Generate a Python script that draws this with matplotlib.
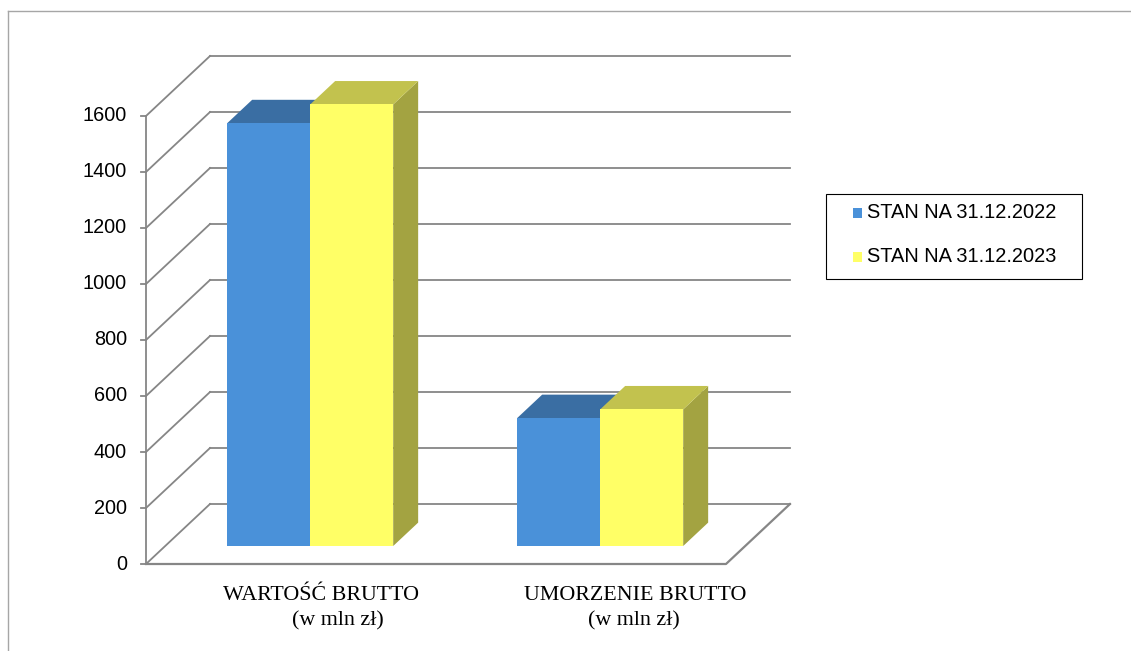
import matplotlib
matplotlib.use('Agg')
import matplotlib.pyplot as plt
from matplotlib.patches import Polygon, Rectangle
from matplotlib.lines import Line2D

# data
categories = ['WARTOŚĆ BRUTTO', 'UMORZENIE BRUTTO']
unit_label = '(w mln zł)'
series_names = ['STAN NA 31.12.2022', 'STAN NA 31.12.2023']
stan_2022 = [1510, 457]
stan_2023 = [1577, 488]
y_ticks = [0, 200, 400, 600, 800, 1000, 1200, 1400, 1600]

front_colors = ['#4A91D9', '#FFFF66']
top_colors = ['#3A6EA3', '#C2C24E']
side_colors = ['#2F5A86', '#A3A341']
grid_col = '#868686'

W, H = 1131, 651
PX_CAT = 290.0      # pixels per category unit
PX_VAL = 0.28       # pixels per value unit
X0_PX = 146         # left edge of front plane
Y0_PX = 564         # zero line of front plane (from top)

# oblique depth vector in data units
DX = 64 / PX_CAT
DY = 60 / PX_VAL

fig = plt.figure(figsize=(W / 100, H / 100), dpi=100)
ax = fig.add_axes([0, 0, 1, 1])
ax.set_xlim(-X0_PX / PX_CAT, (W - X0_PX) / PX_CAT)
ax.set_ylim(-(H - Y0_PX) / PX_VAL, Y0_PX / PX_VAL)
ax.axis('off')

n_cat = len(categories)
lw = 1.3

def proj(x, v, d):
    return (x + d * DX, v + d * DY)

# walls
for t in y_ticks:
    ax.plot([DX, n_cat + DX], [t + DY, t + DY], color=grid_col, lw=lw, zorder=1)
    ax.plot([0, DX], [t, t + DY], color=grid_col, lw=lw, zorder=1)
    ax.plot([-5 / PX_CAT, 0], [t, t], color=grid_col, lw=lw, zorder=1)
    ax.text(-19 / PX_CAT, t, str(t), ha='right', va='center',
            fontsize=14.3, family='Liberation Sans', color='black')
ax.plot([0, 0], [0, y_ticks[-1]], color=grid_col, lw=lw, zorder=1)
ax.plot([0, n_cat, n_cat + DX], [0, 0, DY], color=grid_col, lw=lw + 0.3, zorder=1)

# bars
bar_w = 0.2862
d0, d1 = 0.3, 0.69
series = [stan_2022, stan_2023]
z = 2
for i in range(n_cat):
    for s, vals in enumerate(series):
        v = vals[i]
        x0 = i + 0.5 - bar_w + s * bar_w
        x1 = x0 + bar_w
        side = [proj(x1, 0, d0), proj(x1, 0, d1), proj(x1, v, d1), proj(x1, v, d0)]
        top = [proj(x0, v, d0), proj(x1, v, d0), proj(x1, v, d1), proj(x0, v, d1)]
        front = [proj(x0, 0, d0), proj(x1, 0, d0), proj(x1, v, d0), proj(x0, v, d0)]
        ax.add_patch(Polygon(side, closed=True, fc=side_colors[s], ec='none', zorder=z))
        ax.add_patch(Polygon(top, closed=True, fc=top_colors[s], ec='none', zorder=z))
        ax.add_patch(Polygon(front, closed=True, fc=front_colors[s], ec='none', zorder=z + 0.5))
        z += 1

# category labels
line1_x = [0.603, 1.686]
line2_x = [0.662, 1.683]
for i, name in enumerate(categories):
    ax.text(line1_x[i], -(596 - Y0_PX) / PX_VAL, name, ha='center', va='center',
            fontsize=15.8, family='Liberation Serif', color='black')
    ax.text(line2_x[i], -(621 - Y0_PX) / PX_VAL, unit_label, ha='center', va='center',
            fontsize=15.8, family='Liberation Serif', color='black')

# legend (drawn by hand to match the box)
tf = fig.transFigure
fig.add_artist(Rectangle((826 / W, 1 - 279 / H), 256 / W, 85 / H, fill=False,
                         ec='black', lw=0.8, transform=tf))
for k, name in enumerate(series_names):
    yc = [213, 257][k]
    fig.add_artist(Rectangle((853 / W, 1 - (yc + 5) / H), 9 / W, 10 / H,
                             fc=front_colors[k], ec='none', transform=tf))
    fig.text(867 / W, 1 - yc / H, name, ha='left', va='center',
             fontsize=14.4, family='Liberation Sans', color='black')

# outer frame (only top and left visible)
fig.add_artist(Line2D([8 / W, 1], [1 - 11 / H, 1 - 11 / H], color='#A6A6A6', lw=1.0, transform=tf))
fig.add_artist(Line2D([8 / W, 8 / W], [0, 1 - 11 / H], color='#A6A6A6', lw=1.0, transform=tf))

fig.savefig('out.png', dpi=100)
